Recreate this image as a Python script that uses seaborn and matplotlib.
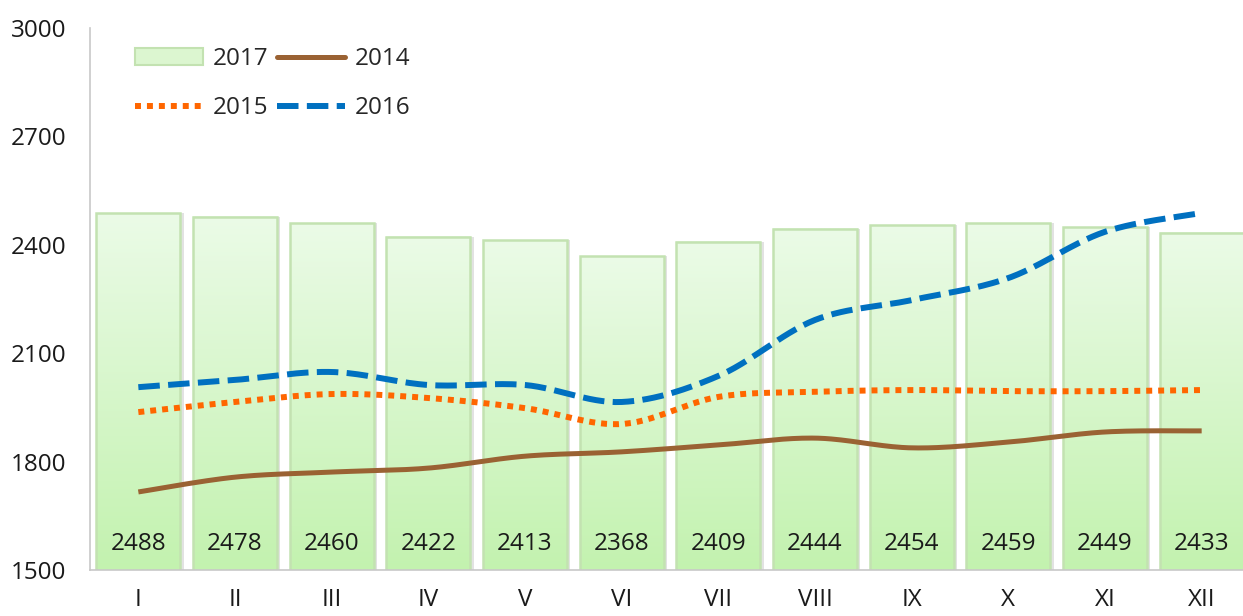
import numpy as np
import matplotlib
matplotlib.use("Agg")
import matplotlib.pyplot as plt
from matplotlib.patches import Patch
from matplotlib.lines import Line2D
import seaborn as sns

months = ["I", "II", "III", "IV", "V", "VI", "VII", "VIII", "IX", "X", "XI", "XII"]
y2017 = [2488, 2478, 2460, 2422, 2413, 2368, 2409, 2444, 2454, 2459, 2449, 2433]
y2014 = [1716, 1757, 1771, 1782, 1815, 1827, 1846, 1865, 1838, 1854, 1882, 1885]
y2015 = [1937, 1965, 1987, 1976, 1948, 1904, 1979, 1993, 1998, 1995, 1995, 1998]
y2016 = [2006, 2026, 2048, 2012, 2012, 1965, 2037, 2192, 2247, 2308, 2436, 2488]
yticks = [1500, 1800, 2100, 2400, 2700, 3000]


def smooth(vals, n=30):
    # catmull-rom curve through the points, like the office "smoothed line"
    p = np.asarray(vals, dtype=float)
    x = np.arange(len(p), dtype=float)
    pts = np.column_stack([x, p])
    ext = np.vstack([pts[0], pts, pts[-1]])
    out = []
    t = np.linspace(0, 1, n, endpoint=False)[:, None]
    for i in range(1, len(ext) - 2):
        p0, p1, p2, p3 = ext[i - 1], ext[i], ext[i + 1], ext[i + 2]
        seg = 0.5 * ((2 * p1) + (-p0 + p2) * t + (2 * p0 - 5 * p1 + 4 * p2 - p3) * t ** 2
                     + (-p0 + 3 * p1 - 3 * p2 + p3) * t ** 3)
        out.append(seg)
    out.append(pts[-1:])
    out = np.vstack(out)
    return out[:, 0], out[:, 1]


sns.set_style("white")
plt.rcParams["font.family"] = ["Open Sans", "DejaVu Sans"]
fs = 17.5

fig = plt.figure(figsize=(12.43, 6.16), dpi=100)
ax = fig.add_axes([90 / 1243, 46 / 616, 1160 / 1243, 542 / 616])

# shadow behind bars
ax.bar(np.arange(12) + 0.035, np.array(y2017) - 1500, bottom=1500, width=0.87,
       color="#9a9a9a", alpha=0.28, linewidth=0, zorder=1)

sns.barplot(x=months, y=y2017, ax=ax, color="#dff7d5", width=0.87,
            edgecolor="#c3e2b1", linewidth=1.8, zorder=2)

grad = np.linspace(0, 1, 256)[:, None]
cmap = matplotlib.colors.LinearSegmentedColormap.from_list("g", ["#ebfbe7", "#c3f2af"])
bars = [p for p in ax.patches if p.get_zorder() == 2]
for bar in bars:
    x0, w = bar.get_x(), bar.get_width()
    top = bar.get_y() + bar.get_height()
    ax.imshow(grad, cmap=cmap, aspect="auto", extent=[x0, x0 + w, 1500, top],
              origin="upper", zorder=2.1)
    bar.set_facecolor("none")
    bar.set_zorder(2.2)

for i, v in enumerate(y2017):
    ax.text(i, 1572, str(v), ha="center", va="center", fontsize=fs, color="#1a1a1a", zorder=5)

xs, ys = smooth(y2014)
ax.plot(xs, ys, color="#9a6233", lw=3.6, solid_capstyle="butt", zorder=4)
xs, ys = smooth(y2015)
ax.plot(xs, ys, color="#ff6600", lw=4.3, linestyle=(0, (1, 1)), dash_capstyle="butt", zorder=4)
xs, ys = smooth(y2016)
ax.plot(xs, ys, color="#0070c0", lw=4.3, linestyle=(0, (3.6, 1.4)), dash_capstyle="butt", zorder=4)

ax.set_xlim(-0.5, 11.5)
ax.set_ylim(1500, 3000)
ax.set_yticks(yticks)
ax.set_yticklabels([str(t) for t in yticks], fontsize=fs, color="#1a1a1a")
ax.set_xticks(range(12))
ax.set_xticklabels(months, fontsize=fs, color="#1a1a1a")
ax.set_xticks(np.arange(-0.5, 12, 1), minor=True)
ax.tick_params(axis="x", which="major", length=0, pad=13)
ax.tick_params(axis="x", which="minor", length=8, color="#c8c8c8", width=1.2, direction="out")
ax.tick_params(axis="y", length=8, color="#c8c8c8", width=1.2, direction="out", pad=9)
ax.set_xlabel("")
ax.set_ylabel("")
for s in ["top", "right"]:
    ax.spines[s].set_visible(False)
for s in ["left", "bottom"]:
    ax.spines[s].set_color("#c8c8c8")
    ax.spines[s].set_linewidth(1.2)

handles = [
    Patch(facecolor="#dcf6d0", edgecolor="#c3e2b1", linewidth=1.5),
    Line2D([], [], color="#ff6600", lw=4.3, linestyle=(0, (1, 1))),
    Line2D([], [], color="#9a6233", lw=3.6),
    Line2D([], [], color="#0070c0", lw=4.3, linestyle=(0, (3.6, 1.4))),
]
labels = ["2017", "2015", "2014", "2016"]
ax.legend(handles, labels, ncol=2, loc="upper left", bbox_to_anchor=(0.02, 1.005),
          frameon=False, fontsize=fs, handlelength=2.8, handleheight=0.7,
          handletextpad=0.4, columnspacing=0.35, labelspacing=1.03)

fig.savefig("out.png", dpi=100)
